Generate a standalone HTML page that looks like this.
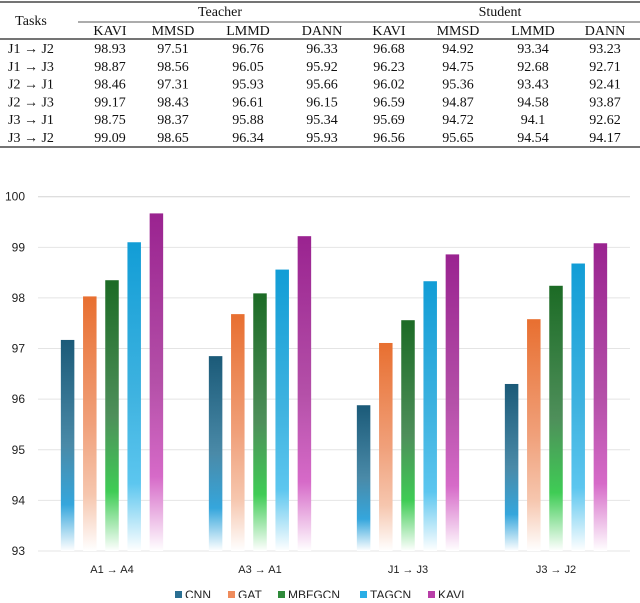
<!DOCTYPE html>
<html><head><meta charset="utf-8"><style>
body{margin:0;width:640px;height:598px;overflow:hidden;background:#fff;font-family:"Liberation Serif",serif}
</style></head><body>
<svg width="640" height="598" xmlns="http://www.w3.org/2000/svg">
<defs id="defs"></defs>
<g id="table" font-family="Liberation Serif, serif" font-size="14" fill="#111"></g>
<g id="chart"></g>
</svg>
<script>
const NS='http://www.w3.org/2000/svg';
const tasks=['J1 → J2','J1 → J3','J2 → J1','J2 → J3','J3 → J1','J3 → J2'];
const headers=['KAVI','MMSD','LMMD','DANN','KAVI','MMSD','LMMD','DANN'];
const tableRows=[
['98.93','97.51','96.76','96.33','96.68','94.92','93.34','93.23'],
['98.87','98.56','96.05','95.92','96.23','94.75','92.68','92.71'],
['98.46','97.31','95.93','95.66','96.02','95.36','93.43','92.41'],
['99.17','98.43','96.61','96.15','96.59','94.87','94.58','93.87'],
['98.75','98.37','95.88','95.34','95.69','94.72','94.1','92.62'],
['99.09','98.65','96.34','95.93','96.56','95.65','94.54','94.17']];
const categories=['A1 → A4','A3 → A1','J1 → J3','J3 → J2'];
const seriesNames=['CNN','GAT','MBFGCN','TAGCN','KAVI'];
const cnn=[97.17,96.85,95.88,96.3];
const gat=[98.03,97.68,97.11,97.58];
const mbfgcn=[98.35,98.09,97.56,98.24];
const tagcn=[99.1,98.56,98.33,98.68];
const kavi=[99.67,99.22,98.86,99.08];
const yTicks=[93,94,95,96,97,98,99,100];

function mk(tag,attrs,parent,txt){const e=document.createElementNS(NS,tag);for(const k in attrs)e.setAttribute(k,attrs[k]);if(txt!==undefined)e.textContent=txt;parent.appendChild(e);return e;}

// table
const T=document.getElementById('table');
const colX=[110,173,248,322,389,458,533,605];
[[0,2,640],[78,22,640],[0,39,640],[0,147,640]].forEach((r,i)=>{
 const l=mk('line',{x1:r[0],x2:r[2],y1:r[1],y2:r[1],stroke:'#222','stroke-width':i==1?0.8:1.2},T);
 
 
});
let t=mk('text',{x:31,y:25,'text-anchor':'middle'},T,'Tasks');

t=mk('text',{x:220,y:16,'text-anchor':'middle'},T,'Teacher');

t=mk('text',{x:500,y:16,'text-anchor':'middle'},T,'Student');

headers.forEach((h,i)=>{const e=mk('text',{x:colX[i],y:35,'text-anchor':'middle'},T,h);
 
 });
tableRows.forEach((row,r)=>{const yy=53+r*17.8;
 const e=mk('text',{x:8,y:yy},T,tasks[r]);
 
 
 row.forEach((v,i)=>{const c=mk('text',{x:colX[i],y:yy,'text-anchor':'middle'},T,v);
  
  });});

// chart
const C=document.getElementById('chart');
const defs=document.getElementById('defs');
const yMin=93,yMax=100,plotTop=196.7,plotBot=551;
const yScale=v=>plotBot-(v-yMin)/(yMax-yMin)*(plotBot-plotTop);
const x0=38,band=148;
const xc=i=>x0+band*i+band/2;
const grads=[
 ['#1b5a78','#4a8aa8','#35a6dc','#ffffff'],
 ['#e86f30','#f0a07a','#f6c6ae','#ffffff'],
 ['#1c6b25','#4e8f5a','#3fcc55','#ffffff'],
 ['#129dd6','#3fb3e0','#5cc6ef','#ffffff'],
 ['#9a2390','#b450a8','#d66ac8','#ffffff']];
const legendCols=['#2a6f92','#ef8c5c','#2f8a3a','#2aaee6','#b83fa8'];
grads.forEach((g,i)=>{const lg=mk('linearGradient',{id:'g'+i,x1:0,y1:0,x2:0,y2:1},defs);
 mk('stop',{offset:'0','stop-color':g[0]},lg);
 mk('stop',{offset:'0.5','stop-color':g[1]},lg);
 mk('stop',{offset:'0.78','stop-color':g[2]},lg);
 mk('stop',{offset:'1','stop-color':g[3]},lg);});
yTicks.forEach(v=>{const l=mk('line',{x1:38,x2:630,y1:yScale(v),y2:yScale(v),stroke:v==100?'#d4d4d4':'#e4e4e4','stroke-width':1},C);
 
 
 const tx=mk('text',{x:25,y:yScale(v)+4,'text-anchor':'end','font-family':'Liberation Sans, sans-serif','font-size':12,fill:'#222'},C,String(v));
 
 });
const series=[cnn,gat,mbfgcn,tagcn,kavi];
const bw=13.5,step=22.2;
series.forEach((s,si)=>{s.forEach((v,ci)=>{
 const bx=xc(ci)+(si-2)*step-bw/2;
 const r=mk('rect',{x:bx,y:yScale(v),width:bw,height:plotBot-yScale(v),fill:'url(#g'+si+')'},C);
 
 });});
categories.forEach((c,i)=>{const e=mk('text',{x:xc(i),y:573,'text-anchor':'middle','font-family':'Liberation Sans, sans-serif','font-size':11,fill:'#222'},C,c);
 
 });
const legX=[175,228,278,360,428];
seriesNames.forEach((n,i)=>{const g=mk('g',{},C);
 
 
 mk('rect',{x:legX[i],y:591,width:7,height:7,fill:legendCols[i]},g);
 mk('text',{x:legX[i]+10,y:599,'font-family':'Liberation Sans, sans-serif','font-size':12,fill:'#222'},g,n);});
</script>
</body></html>
